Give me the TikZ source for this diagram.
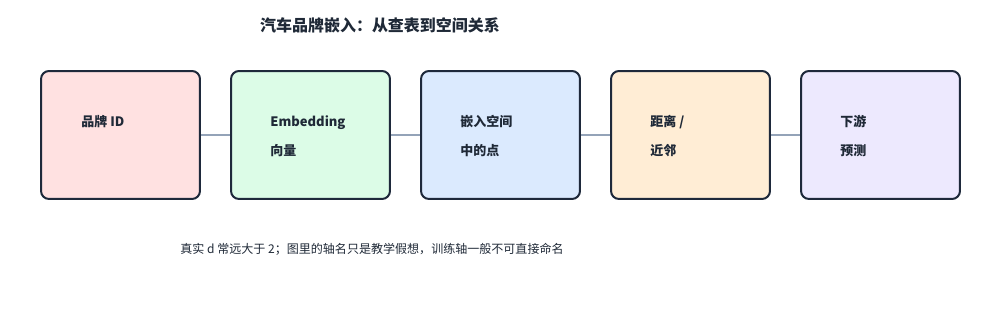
\documentclass[tikz,border=0pt]{standalone}
\usepackage{fontspec}
\setmainfont{Noto Sans CJK SC}
\usepackage{xcolor}
\usetikzlibrary{positioning}

\definecolor{edgeC}{HTML}{1E293B}
\definecolor{inkC}{HTML}{1F2937}
\definecolor{linkC}{HTML}{94A3B8}
\definecolor{pinkF}{HTML}{FFE1E1}
\definecolor{greenF}{HTML}{DCFCE7}
\definecolor{blueF}{HTML}{DBEAFE}
\definecolor{orangeF}{HTML}{FFEDD5}
\definecolor{violetF}{HTML}{EDE9FE}

\begin{document}
\begin{tikzpicture}[
    x=0.02cm, y=-0.02cm,
    card/.style  = {draw=edgeC, line width=0.04cm, rounded corners=0.16cm, minimum width=3.18cm, minimum height=2.56cm, inner sep=0pt},
    lbl/.style   = {anchor=north west, inner sep=0pt, align=left, text=inkC, font=\fontsize{7.4}{16.5}\selectfont\bfseries},
    title/.style = {text=inkC, font=\fontsize{9.1}{11}\selectfont\bfseries},
    note/.style  = {inner sep=0pt, text=inkC, font=\fontsize{6.85}{8}\selectfont},
    link/.style  = {draw=linkC, line width=0.03cm}
]
\useasboundingbox (0,0) rectangle (1000,320);

% ---- Title ----
\node[title] (head) at (380,25) {汽车品牌嵌入：从查表到空间关系};

% ---- Cards ----
\node[card, fill=pinkF]   (id)   at (120.5,135) {};
\node[card, fill=greenF]  (vec)  at (310.5,135) {};
\node[card, fill=blueF]   (pt)   at (500.5,135) {};
\node[card, fill=orangeF] (nn)   at (690.5,135) {};
\node[card, fill=violetF] (pred) at (880.5,135) {};

% ---- Card texts ----
\node[lbl] (tid)   at (81,115)  {品牌 ID};
\node[lbl] (tvec)  at (270,115) {Embedding\\向量};
\node[lbl] (tpt)   at (460,115) {嵌入空间\\中的点};
\node[lbl] (tnn)   at (650,115) {距离 /\\近邻};
\node[lbl] (tpred) at (840,115) {下游\\预测};

% ---- Links ----
\draw[link] (id)  -- (vec);
\draw[link] (vec) -- (pt);
\draw[link] (pt)  -- (nn);
\draw[link] (nn)  -- (pred);

% ---- Footnote ----
\node[note, anchor=west] (foot) at (180,249) {真实 d 常远大于 2；图里的轴名只是教学假想，训练轴一般不可直接命名};

\end{tikzpicture}
\end{document}
